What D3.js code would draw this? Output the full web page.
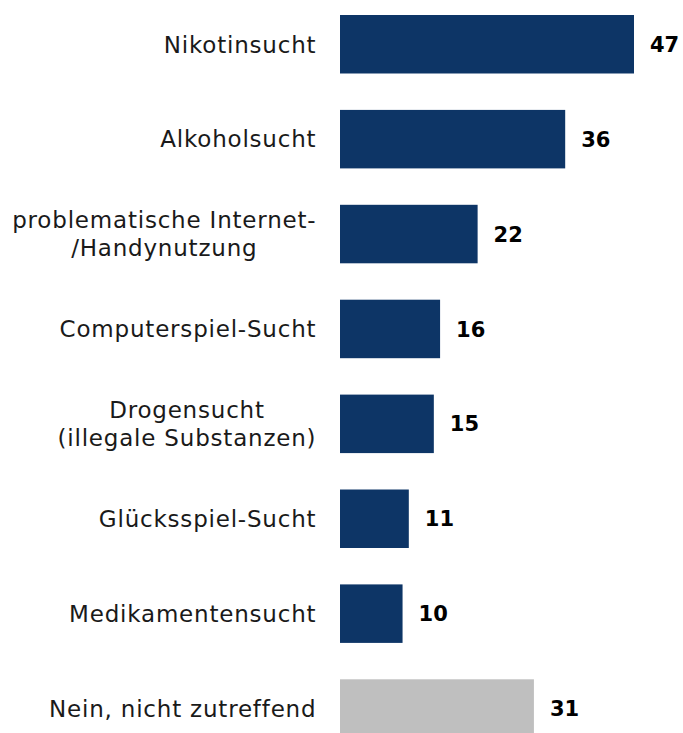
<!DOCTYPE html>
<html>
<head>
<meta charset="utf-8">
<script src="https://cdn.jsdelivr.net/npm/d3@7"></script>
<style>
  html, body { margin: 0; padding: 0; background: #fff; }
  svg { display: block; }
</style>
</head>
<body>
<svg id="chart" width="683" height="733"></svg>
<script>
// Kategorien (mehrzeilige Beschriftungen mit "\n")
const categories = [
  "Nikotinsucht",
  "Alkoholsucht",
  "problematische Internet-\n/Handynutzung",
  "Computerspiel-Sucht",
  "Drogensucht\n(illegale Substanzen)",
  "Glücksspiel-Sucht",
  "Medikamentensucht",
  "Nein, nicht zutreffend"
];
// Anteile in Prozent
const values = [47, 36, 22, 16, 15, 11, 10, 31];
// Balkenart: Sucht-Nennung oder "nicht zutreffend"
const kinds = ["sucht", "sucht", "sucht", "sucht", "sucht", "sucht", "sucht", "keine"];

const colors = { sucht: "#0d3566", keine: "#bfbfbf" };

const svg = d3.select("#chart");

const barLeft = 340;
const labelRight = 316;

const x = d3.scaleLinear()
  .domain([0, d3.max(values)])
  .range([barLeft, 634]);

const y = d3.scaleBand()
  .domain(d3.range(categories.length))
  .range([15, 737.8])
  .paddingInner(0.3836)
  .paddingOuter(0);

const data = categories.map((c, i) => ({ cat: c, value: values[i], kind: kinds[i], i }));

// Balken
svg.append("g")
  .selectAll("rect")
  .data(data)
  .join("rect")
  .attr("x", x(0))
  .attr("y", d => y(d.i))
  .attr("width", d => x(d.value) - x(0))
  .attr("height", y.bandwidth())
  .attr("fill", d => colors[d.kind]);

// Werte rechts neben den Balken
svg.append("g")
  .selectAll("text")
  .data(data)
  .join("text")
  .attr("x", d => x(d.value) + 16)
  .attr("y", d => y(d.i) + y.bandwidth() / 2)
  .attr("dy", "0.36em")
  .style("font-family", "'DejaVu Sans', sans-serif")
  .style("font-weight", "bold")
  .style("font-size", "21px")
  .attr("fill", "#000")
  .text(d => d.value);

// Kategorie-Beschriftungen: Zeilen zentriert, Block rechtsbündig
const labelFont = { family: "'DejaVu Sans', sans-serif", size: 23, spacing: 0.8 };
const lineH = 28;

const labels = svg.append("g")
  .selectAll("text")
  .data(data)
  .join("text")
  .style("font-family", labelFont.family)
  .style("font-size", labelFont.size + "px")
  .style("letter-spacing", labelFont.spacing + "px")
  .attr("fill", "#1a1a1a")
  .attr("text-anchor", "middle");

labels.each(function(d) {
  const t = d3.select(this);
  const lines = d.cat.split("\n");
  const cy = y(d.i) + y.bandwidth() / 2;
  const spans = lines.map((ln, k) =>
    t.append("tspan")
      .attr("y", cy + (k - (lines.length - 1) / 2) * lineH)
      .attr("dy", "0.36em")
      .text(ln)
  );
  const widths = spans.map(s => s.node().getComputedTextLength() - labelFont.spacing);
  const cx = labelRight - d3.max(widths) / 2;
  spans.forEach(s => s.attr("x", cx));
});
</script>
</body>
</html>
